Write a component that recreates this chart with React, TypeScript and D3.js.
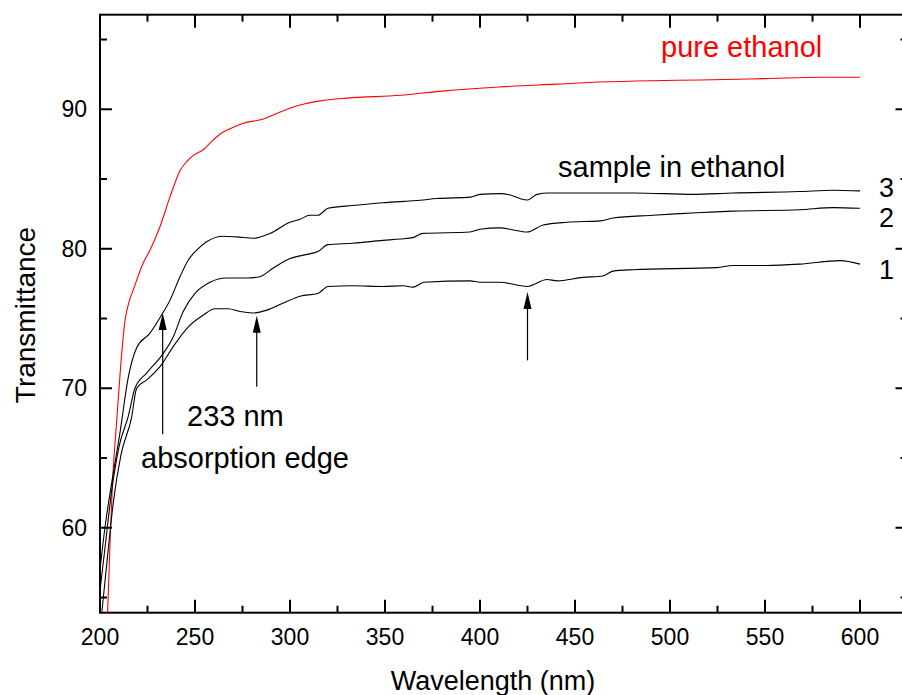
import React from "react";
import * as d3 from "d3";

const xTicks = [200, 250, 300, 350, 400, 450, 500, 550, 600];
const yTicks = [60, 70, 80, 90];

const pureEthanol: [number, number][] = [
  [204, 53.9], [205.3, 59], [206.5, 63], [208.8, 67.7], [211, 71.8], [213.2, 74.9],
  [215.3, 76.2], [217.5, 77.05], [222.8, 79.0], [226.3, 79.9], [231.6, 81.6],
  [236.8, 83.7], [242.1, 85.6], [246, 86.3], [249.1, 86.7], [254.4, 87.1],
  [259.6, 87.8], [264, 88.3], [268.4, 88.6], [275.4, 89.0], [286, 89.3], [293, 89.7],
  [305.3, 90.3], [316, 90.6], [330, 90.8], [358, 91.0], [380, 91.3], [410, 91.6],
  [440, 91.8], [463, 91.95], [490, 92.05], [516, 92.1], [550, 92.2], [580, 92.3],
  [600, 92.3],
];

const sample3: [number, number][] = [
  [200, 57], [202.6, 60], [206.5, 63.5], [210.5, 66.8], [214.9, 70.8], [219.3, 72.9],
  [226.3, 73.95], [232.4, 75.25], [236.8, 76.3], [242.1, 78.0], [246.5, 79.2],
  [250.9, 79.9], [256.1, 80.5], [264.8, 80.9], [272, 80.85], [280.7, 80.75],
  [289.5, 81.1], [300, 81.9], [305, 82.1], [310.5, 82.4], [314.7, 82.4], [320, 82.9],
  [333, 83.1], [349, 83.3], [360, 83.4], [370, 83.5], [377, 83.6], [395, 83.7],
  [400, 83.9], [410.5, 83.95], [416, 83.85], [421, 83.6], [425, 83.5], [430, 83.9],
  [436, 84.0], [460, 84.0], [470, 84.0], [481, 84.0], [512, 83.9], [533, 84.0],
  [568, 84.1], [586, 84.2], [600, 84.15],
];

const sample2: [number, number][] = [
  [200, 55.5], [203, 59], [206, 62.5], [210, 65.8], [214.9, 68.0], [218.4, 70.0],
  [224.6, 71.1], [233.3, 72.5], [238.6, 73.7], [243.8, 75.5], [250, 76.8],
  [257.9, 77.6], [266.7, 77.9], [277.4, 77.9], [284.2, 78.0], [291, 78.6], [300, 79.3],
  [309, 79.6], [314.7, 79.8], [320, 80.3], [333.2, 80.4], [348.9, 80.6], [357.9, 80.7],
  [364.7, 80.8], [370, 81.1], [394.7, 81.2], [400, 81.4], [410.5, 81.5], [417.4, 81.35],
  [424.7, 81.2], [433.2, 81.7], [445.8, 81.9], [463.2, 82.0], [470, 82.2], [491, 82.4],
  [533.2, 82.7], [568.4, 82.8], [585.8, 82.95], [600, 82.9],
];

const sample1: [number, number][] = [
  [201, 54], [204, 58], [207, 61.8], [211, 65.2], [216.6, 67.9], [219.3, 70.0],
  [224.6, 70.6], [232.4, 71.7], [238.6, 73.0], [246.5, 74.4], [254.4, 75.25],
  [260.5, 75.7], [267.5, 75.7], [273.7, 75.5], [280.5, 75.4], [287.9, 75.6],
  [296.3, 76.1], [305.3, 76.6], [314.7, 76.8], [320, 77.3], [333.2, 77.35],
  [348.9, 77.3], [359.5, 77.35], [364.7, 77.25], [370.5, 77.6], [394.7, 77.7],
  [400, 77.6], [410.5, 77.6], [424.7, 77.3], [435.3, 77.8], [440.5, 77.7],
  [454.2, 77.95], [464.7, 78.05], [470, 78.4], [480.5, 78.5], [524.7, 78.65],
  [533.2, 78.8], [551, 78.8], [568.4, 78.9], [589.5, 79.15], [600, 78.9],
];

// arrows: [wavelength, T tip, T tail]
const arrows: [number, number, number][] = [
  [233, 75.4, 66.7],
  [282.5, 75.2, 70.1],
  [425, 76.9, 72.0],
];

const FONT = "'Liberation Sans', Arial, Helvetica, sans-serif";

export default function App() {
  const W = 902, H = 695;
  const x = d3.scaleLinear().domain([200, 625]).range([100, 907.5]);
  const y = d3.scaleLinear().domain([53.91, 96.78]).range([612.7, 14.7]);
  const [x0, x1] = x.range();
  const [y0, y1] = y.range();

  const line = d3
    .line<[number, number]>()
    .x((d) => x(d[0]))
    .y((d) => y(d[1]))
    .curve(d3.curveMonotoneX);

  const xMinor = d3.range(200, 626, 25).filter((v) => v % 50 !== 0);
  const yMinor = d3.range(55, 97, 5).filter((v) => v % 10 !== 0);

  return (
    <svg
      width={W}
      height={H}
      style={{ position: "absolute", left: 0, top: 0, background: "#fff" }}
      fontFamily={FONT}
    >
      <defs>
        <clipPath id="plot">
          <rect x={x0} y={y1} width={x1 - x0} height={y0 - y1} />
        </clipPath>
      </defs>
      <g clipPath="url(#plot)" fill="none" strokeWidth={1.1}>
        <path d={line(pureEthanol) || ""} stroke="#ff0000" />
        <path d={line(sample3) || ""} stroke="#000" />
        <path d={line(sample2) || ""} stroke="#000" />
        <path d={line(sample1) || ""} stroke="#000" />
      </g>

      {/* frame */}
      <rect x={x0} y={y1} width={x1 - x0} height={y0 - y1} fill="none" stroke="#000" strokeWidth={2} />

      {/* x ticks bottom/top */}
      {xTicks.map((v) => (
        <g key={"xt" + v}>
          <line x1={x(v)} x2={x(v)} y1={y0} y2={y0 - 13} stroke="#000" strokeWidth={2} />
          <line x1={x(v)} x2={x(v)} y1={y1} y2={y1 + 13} stroke="#000" strokeWidth={2} />
          <text x={x(v)} y={645} textAnchor="middle" fontSize={23}>
            {v}
          </text>
        </g>
      ))}
      {xMinor.map((v) => (
        <g key={"xm" + v}>
          <line x1={x(v)} x2={x(v)} y1={y0} y2={y0 - 7} stroke="#000" strokeWidth={2} />
          <line x1={x(v)} x2={x(v)} y1={y1} y2={y1 + 7} stroke="#000" strokeWidth={2} />
        </g>
      ))}
      {/* y ticks left/right */}
      {yTicks.map((v) => (
        <g key={"yt" + v}>
          <line x1={x0} x2={x0 + 12} y1={y(v)} y2={y(v)} stroke="#000" strokeWidth={2} />
          <line x1={x1} x2={x1 - 12} y1={y(v)} y2={y(v)} stroke="#000" strokeWidth={2} />
          <text x={87} y={y(v) + 8} textAnchor="end" fontSize={23}>
            {v}
          </text>
        </g>
      ))}
      {yMinor.map((v) => (
        <g key={"ym" + v}>
          <line x1={x0} x2={x0 + 7} y1={y(v)} y2={y(v)} stroke="#000" strokeWidth={2} />
          <line x1={x1} x2={x1 - 7} y1={y(v)} y2={y(v)} stroke="#000" strokeWidth={2} />
        </g>
      ))}

      {/* axis titles */}
      <text x={493} y={690} textAnchor="middle" fontSize={27}>
        Wavelength (nm)
      </text>
      <text transform="translate(35,315) rotate(-90)" textAnchor="middle" fontSize={28}>
        Transmittance
      </text>

      {/* annotations */}
      <text x={661} y={57} fontSize={29} fill="#ff0000">
        pure ethanol
      </text>
      <text x={558} y={177} fontSize={29}>
        sample in ethanol
      </text>
      <text x={879} y={197} fontSize={27}>3</text>
      <text x={879} y={227} fontSize={27}>2</text>
      <text x={879} y={279} fontSize={27}>1</text>
      <text x={187} y={426} fontSize={29}>
        233 nm
      </text>
      <text x={141} y={468} fontSize={29}>
        absorption edge
      </text>

      {arrows.map(([w, tTip, tTail], i) => {
        const ax = x(w);
        const tip = y(tTip);
        const tail = y(tTail);
        return (
          <g key={"ar" + i}>
            <line x1={ax} x2={ax} y1={tail} y2={tip + 14} stroke="#000" strokeWidth={1.2} />
            <path d={`M${ax},${tip} L${ax - 4},${tip + 17} L${ax + 4},${tip + 17} Z`} fill="#000" />
          </g>
        );
      })}
    </svg>
  );
}
